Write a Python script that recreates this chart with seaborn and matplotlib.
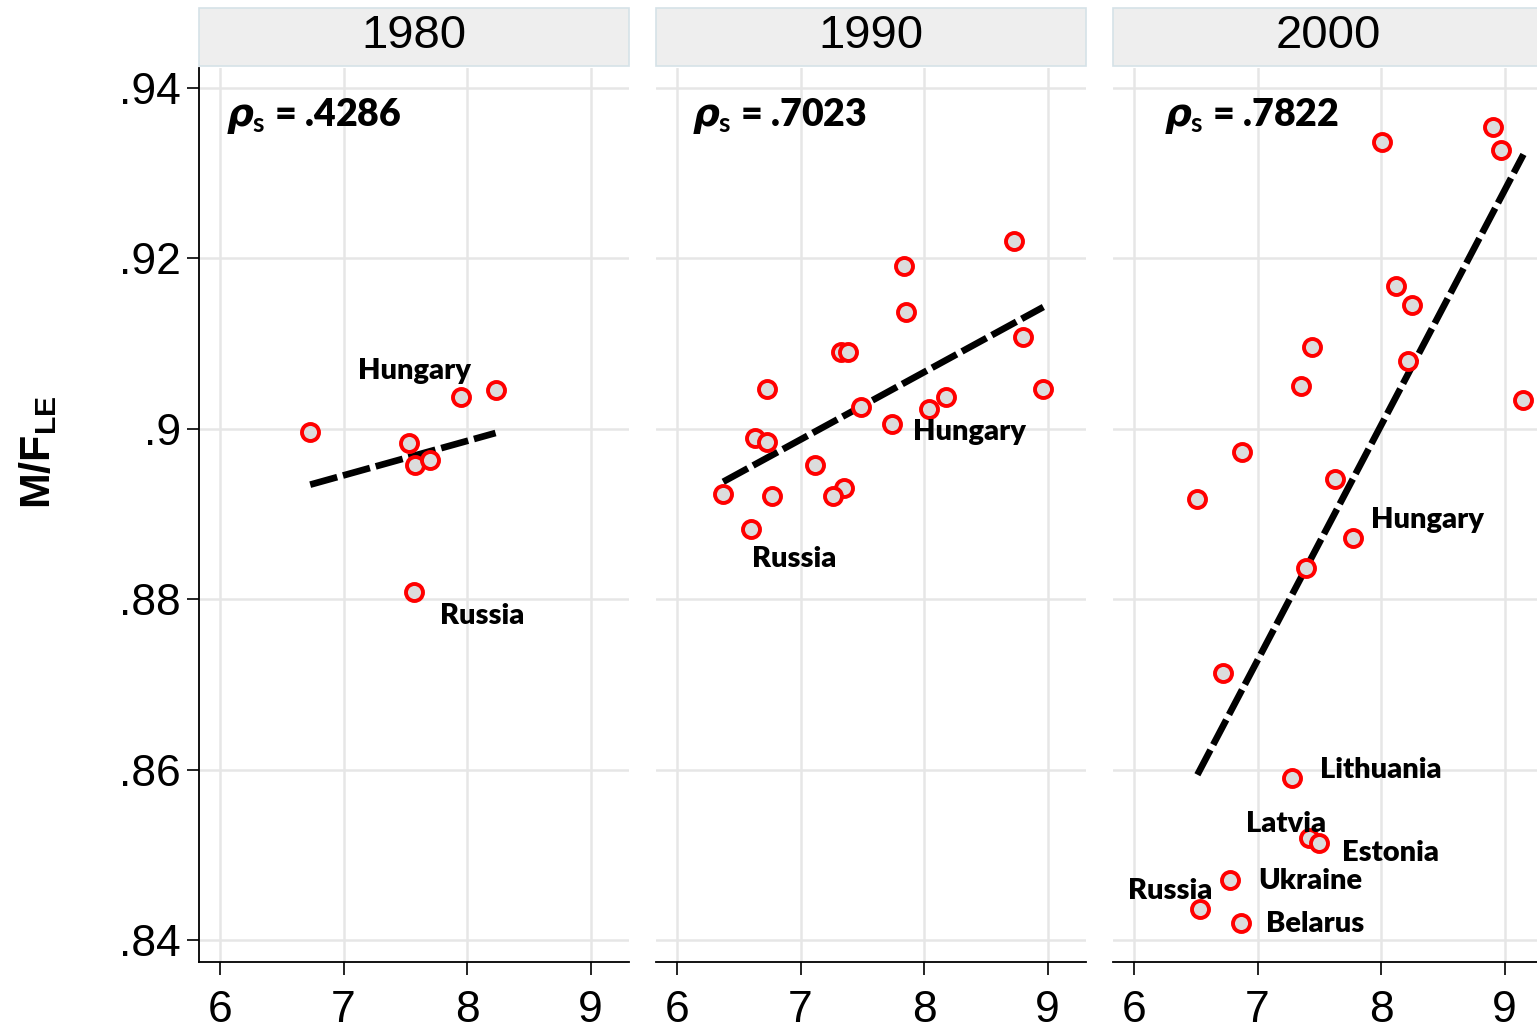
import numpy as np
import pandas as pd
import matplotlib
matplotlib.use("Agg")
import matplotlib.pyplot as plt
import seaborn as sns
from matplotlib.patches import Rectangle

# ---------------- data ----------------
years = ["1980", "1990", "2000"]
rho_s = [".4286", ".7023", ".7822"]

x_1980 = [6.73, 7.53, 7.58, 7.70, 7.95, 8.23, 7.57]
y_1980 = [0.8996, 0.8983, 0.8958, 0.8963, 0.9037, 0.9046, 0.8808]
lab_1980 = ["", "", "", "", "Hungary", "", "Russia"]

x_1990 = [8.726, 7.835, 7.857, 7.325, 7.380, 8.797, 6.732, 8.965, 8.180, 8.038,
          7.488, 7.737, 6.634, 6.732, 7.116, 7.352, 7.266, 6.770, 6.374, 6.599]
y_1990 = [0.9220, 0.9191, 0.9137, 0.9090, 0.9090, 0.9108, 0.9047, 0.9047, 0.9037, 0.9023,
          0.9026, 0.9006, 0.8989, 0.8985, 0.8957, 0.8931, 0.8921, 0.8921, 0.8924, 0.8882]
lab_1990 = ["", "", "", "", "", "", "", "", "", "Hungary",
            "", "", "", "", "", "", "", "", "", "Russia"]

x_2000 = [8.909, 8.974, 8.011, 8.119, 8.252, 7.438, 8.215, 7.348, 9.152, 6.876, 6.513,
          7.628, 7.774, 7.391, 6.719, 7.279, 7.414, 7.501, 6.775, 6.535, 6.862]
y_2000 = [0.9354, 0.9327, 0.9337, 0.9168, 0.9145, 0.9096, 0.9080, 0.9050, 0.9034, 0.8973, 0.8918,
          0.8941, 0.8872, 0.8837, 0.8713, 0.8590, 0.8520, 0.8514, 0.8470, 0.8436, 0.8420]
lab_2000 = ["", "", "", "", "", "", "", "", "", "", "",
            "", "Hungary", "", "", "Lithuania", "Latvia", "Estonia", "Ukraine", "Russia", "Belarus"]

y_ticks = [0.84, 0.86, 0.88, 0.90, 0.92, 0.94]
y_ticklabels = [".84", ".86", ".88", ".9", ".92", ".94"]
x_ticks = [6, 7, 8, 9]
x_ticklabels = ["6", "7", "8", "9"]

panels = [
    pd.DataFrame({"x": x_1980, "y": y_1980, "label": lab_1980}),
    pd.DataFrame({"x": x_1990, "y": y_1990, "label": lab_1990}),
    pd.DataFrame({"x": x_2000, "y": y_2000, "label": lab_2000}),
]

# ---------------- style ----------------
# label offsets in pixels (left edge / vertical centre relative to marker)
label_offsets = {
    ("1980", "Hungary"): (-103, 26), ("1980", "Russia"): (26, -24),
    ("1990", "Russia"): (1, -30), ("1990", "Hungary"): (-16, -23),
    ("2000", "Hungary"): (18, 18), ("2000", "Lithuania"): (28, 8),
    ("2000", "Latvia"): (-63, 14), ("2000", "Estonia"): (23, -10),
    ("2000", "Ukraine"): (28, -1), ("2000", "Russia"): (-72, 18),
    ("2000", "Belarus"): (25, -1),
}
rho_pos = [0.063, 0.084, 0.119]

sns.set_style("white")
plt.rcParams["font.family"] = ["Liberation Sans", "DejaVu Sans"]
plt.rcParams["text.color"] = "black"
plt.rcParams["xtick.color"] = "black"
plt.rcParams["ytick.color"] = "black"
plt.rcParams["mathtext.fontset"] = "custom"
plt.rcParams["mathtext.it"] = "DejaVu Sans:italic:bold"
plt.rcParams["mathtext.rm"] = "Lato:bold"
plt.rcParams["mathtext.bf"] = "Liberation Sans:bold"

W, H = 1537, 1032
fig = plt.figure(figsize=(W / 100, H / 100), dpi=100)

ax_left_px = [199, 656, 1113]
ax_w_px = 430
ax_top_px, ax_bot_px = 68, 962

for i, (yr, df) in enumerate(zip(years, panels)):
    ax = fig.add_axes([ax_left_px[i] / W, 1 - ax_bot_px / H, ax_w_px / W, (ax_bot_px - ax_top_px) / H])
    sns.regplot(data=df, x="x", y="y", ax=ax, scatter=False, ci=None, truncate=True,
                color="black", line_kws=dict(lw=4.8, linestyle=(0, (4.2, 0.9)), zorder=2))
    sns.scatterplot(data=df, x="x", y="y", ax=ax, s=150, color="#dcdcdc",
                    edgecolor="#ff0000", linewidth=2.8, zorder=3, legend=False)
    for _, r in df.iterrows():
        if r["label"]:
            dx, dy = label_offsets[(yr, r["label"])]
            ax.annotate(r["label"], xy=(r["x"], r["y"]), xytext=(dx, dy),
                        textcoords="offset pixels", ha="left", va="center", color="black",
                        fontsize=21, fontweight="heavy", family=["Lato", "DejaVu Sans"], zorder=4)
    ax.text(rho_pos[i], 0.946, r"$\rho_{\mathrm{s}}$ = " + rho_s[i], transform=ax.transAxes,
            ha="left", va="center", fontsize=27, fontweight="heavy", color="black",
            family=["Lato", "DejaVu Sans"])

    ax.set_xlim(5.83, 9.31)
    ax.set_ylim(0.83742, 0.94235)
    ax.set_xticks(x_ticks)
    ax.set_xticklabels(x_ticklabels)
    ax.set_yticks(y_ticks)
    ax.set_yticklabels(y_ticklabels)
    ax.set_xlabel("")
    ax.set_ylabel("")
    ax.grid(True, color="#e6e6e6", lw=1.8)
    ax.set_axisbelow(True)
    for s in ["top", "right"]:
        ax.spines[s].set_visible(False)
    ax.spines["bottom"].set_color("black")
    ax.spines["bottom"].set_linewidth(1.3)
    ax.tick_params(axis="x", direction="out", length=9, width=1.2, pad=11,
                   labelsize=32, bottom=True, colors="black")
    if i == 0:
        ax.spines["left"].set_color("black")
        ax.spines["left"].set_linewidth(1.3)
        ax.tick_params(axis="y", direction="out", length=9, width=1.2, pad=4,
                       labelsize=32, left=True, colors="black")
    else:
        ax.spines["left"].set_visible(False)
        ax.tick_params(axis="y", left=False, labelleft=False)

    # facet header
    hx = ax_left_px[i] / W
    fig.patches.append(Rectangle((hx, 1 - 66 / H), ax_w_px / W, 58 / H, transform=fig.transFigure,
                                 facecolor="#eeeeee", edgecolor="#d5e2e7", lw=1.2, zorder=0))
    fig.text(hx + ax_w_px / W / 2, 1 - 36 / H, yr, ha="center", va="center", fontsize=34)

fig.text(0.025, 1 - 452 / H, r"M/F$_{\mathbf{LE}}$", rotation=90, ha="center", va="center",
         fontsize=31, fontweight="bold")

fig.savefig("out.png", dpi=100)
